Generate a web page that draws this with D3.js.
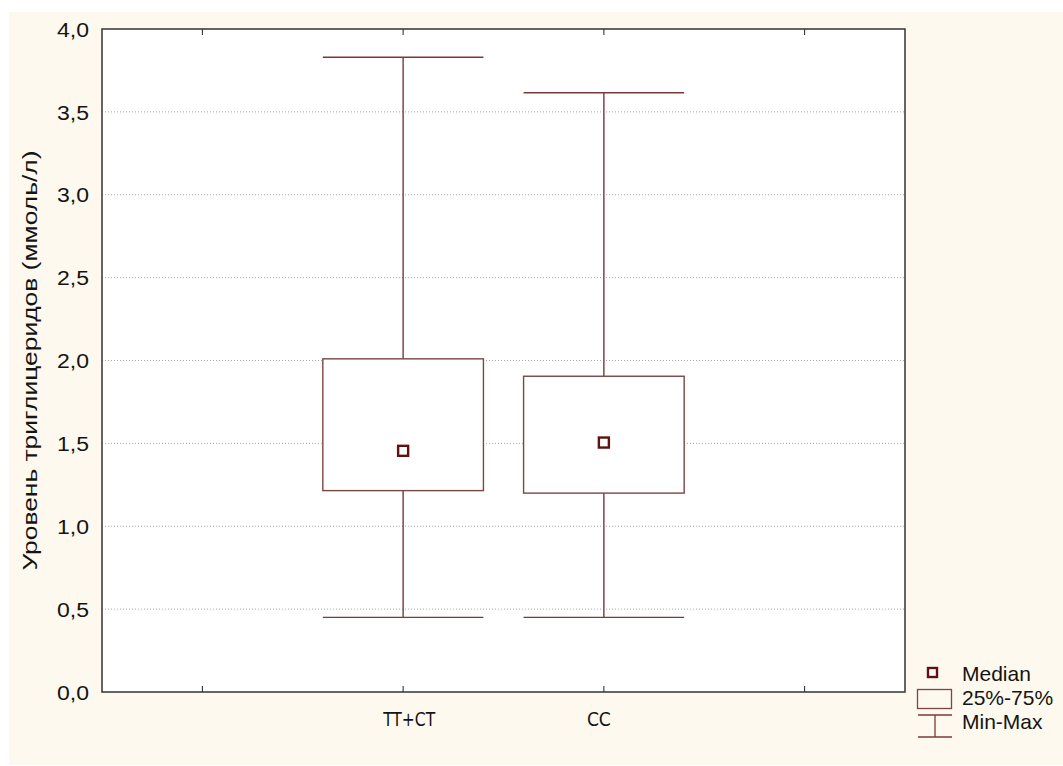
<!DOCTYPE html>
<html>
<head>
<meta charset="utf-8">
<script src="https://cdn.jsdelivr.net/npm/d3@7"></script>
<style>
  html, body { margin: 0; padding: 0; background: #ffffff; }
  svg { display: block; }
</style>
</head>
<body>
<script>
// ---- data ----
const xTickLabels = ["", "TT+CT", "CC", ""];
const groups = ["TT+CT", "CC"];
const groupSlot = [1, 2];
const minVals = [0.45, 0.45];
const q1Vals = [1.215, 1.20];
const medianVals = [1.455, 1.505];
const q3Vals = [2.01, 1.905];
const maxVals = [3.83, 3.615];
const yTickValues = [0, 0.5, 1, 1.5, 2, 2.5, 3, 3.5, 4];
const yTitle = "Уровень триглицеридов (ммоль/л)";
const legendLabels = ["Median", "25%-75%", "Min-Max"];

const W = 1063, H = 766;
const plot = { left: 102, right: 905, top: 29, bottom: 692 };
const boxColor = "#7a4646";
const whiskerColor = "#7a3838";
const medianColor = "#5e1212";
const textColor = "#141414";

const svg = d3.select("body").append("svg").attr("width", W).attr("height", H);

// backgrounds
svg.append("rect").attr("x", 0).attr("y", 0).attr("width", W).attr("height", H).attr("fill", "#ffffff");
svg.append("rect").attr("x", 9).attr("y", 12).attr("width", W - 9).attr("height", 753).attr("fill", "#fdf9ef");
svg.append("rect").attr("x", plot.left).attr("y", plot.top)
  .attr("width", plot.right - plot.left).attr("height", plot.bottom - plot.top).attr("fill", "#ffffff");

const x = d3.scaleBand().domain(d3.range(xTickLabels.length))
  .range([plot.left, plot.right]).paddingInner(0).paddingOuter(0);
const y = d3.scaleLinear().domain([0, 4]).range([plot.bottom, plot.top]);
const fmt = v => d3.format(".1f")(v).replace(".", ",");

// gridlines
svg.append("g").selectAll("line").data(yTickValues.filter(v => v > 0 && v < 4)).join("line")
  .attr("x1", plot.left).attr("x2", plot.right)
  .attr("y1", d => y(d)).attr("y2", d => y(d))
  .attr("stroke", "#a8a8a8").attr("stroke-width", 1).attr("stroke-dasharray", "1,2");

// y axis labels
const yAxis = d3.axisLeft(y).tickValues(yTickValues).tickFormat(fmt).tickSize(0).tickPadding(13);
const yg = svg.append("g").attr("transform", `translate(${plot.left},0)`).call(yAxis);
yg.select(".domain").remove();
yg.selectAll("text").attr("font-family", "Liberation Sans, Arial, sans-serif")
  .attr("font-size", 20).attr("fill", textColor).attr("dy", "0.36em")
  .attr("textLength", 32).attr("lengthAdjust", "spacingAndGlyphs");

// x axis (bottom) with inward ticks
const xAxis = d3.axisBottom(x).tickFormat(i => xTickLabels[i]).tickSize(-6).tickPadding(20);
const xg = svg.append("g").attr("transform", `translate(0,${plot.bottom})`).call(xAxis);
xg.select(".domain").remove();
xg.selectAll("line").attr("stroke", "#222").attr("stroke-width", 1);
xg.selectAll("text").attr("font-family", "Liberation Sans Narrow, DejaVu Sans Condensed, sans-serif")
  .attr("font-size", 20).attr("fill", textColor)
  .attr("dx", (d) => d === 1 ? 6 : (d === 2 ? -5 : 0))
  .each(function (d) {
    const w = { 1: 52, 2: 24 }[d];
    if (w) d3.select(this).attr("textLength", w).attr("lengthAdjust", "spacingAndGlyphs");
  });

// top inward ticks
const xTop = d3.axisTop(x).tickFormat("").tickSize(-6);
const xt = svg.append("g").attr("transform", `translate(0,${plot.top})`).call(xTop);
xt.select(".domain").remove();
xt.selectAll("line").attr("stroke", "#222");

// boxes
const bw = x.bandwidth() * 0.8;
const gBox = svg.append("g");
groups.forEach((g, i) => {
  const cx = x(groupSlot[i]) + x.bandwidth() / 2;
  gBox.append("line").attr("x1", cx).attr("x2", cx).attr("y1", y(maxVals[i])).attr("y2", y(minVals[i]))
    .attr("stroke", whiskerColor).attr("stroke-width", 1.4);
  [maxVals[i], minVals[i]].forEach(v => {
    gBox.append("line").attr("x1", cx - bw / 2).attr("x2", cx + bw / 2).attr("y1", y(v)).attr("y2", y(v))
      .attr("stroke", whiskerColor).attr("stroke-width", 1.4);
  });
  gBox.append("rect").attr("x", cx - bw / 2).attr("y", y(q3Vals[i]))
    .attr("width", bw).attr("height", y(q1Vals[i]) - y(q3Vals[i]))
    .attr("fill", "#ffffff").attr("stroke", boxColor).attr("stroke-width", 1.4);
  gBox.append("rect").attr("x", cx - 5).attr("y", y(medianVals[i]) - 5).attr("width", 10).attr("height", 10)
    .attr("fill", "#ffffff").attr("stroke", medianColor).attr("stroke-width", 2.4);
});

// frame
svg.append("rect").attr("x", plot.left).attr("y", plot.top)
  .attr("width", plot.right - plot.left).attr("height", plot.bottom - plot.top)
  .attr("fill", "none").attr("stroke", "#333").attr("stroke-width", 1.5);

// y title
svg.append("text").attr("transform", `translate(37,${(plot.top + plot.bottom) / 2}) rotate(-90)`)
  .attr("text-anchor", "middle").attr("font-family", "Liberation Sans, Arial, sans-serif")
  .attr("font-size", 20).attr("fill", textColor)
  .attr("textLength", 420).attr("lengthAdjust", "spacingAndGlyphs")
  .text(yTitle);

// legend
const lg = svg.append("g");
lg.append("rect").attr("x", 928).attr("y", 668).attr("width", 9).attr("height", 9)
  .attr("fill", "#fff").attr("stroke", medianColor).attr("stroke-width", 2.4);
lg.append("rect").attr("x", 917.5).attr("y", 689.5).attr("width", 34).attr("height", 19)
  .attr("fill", "none").attr("stroke", boxColor).attr("stroke-width", 1.3);
lg.append("line").attr("x1", 918).attr("x2", 952).attr("y1", 715).attr("y2", 715).attr("stroke", whiskerColor).attr("stroke-width", 1.3);
lg.append("line").attr("x1", 918).attr("x2", 952).attr("y1", 737).attr("y2", 737).attr("stroke", whiskerColor).attr("stroke-width", 1.3);
lg.append("line").attr("x1", 935).attr("x2", 935).attr("y1", 715).attr("y2", 737).attr("stroke", whiskerColor).attr("stroke-width", 1.3);
const legY = [681, 705, 729];
lg.selectAll("text.leg").data(legendLabels).join("text").attr("class", "leg")
  .attr("x", 962).attr("y", (d, i) => legY[i])
  .attr("font-family", "Liberation Sans, Arial, sans-serif").attr("font-size", 21).attr("fill", textColor)
  .text(d => d);
</script>
</body>
</html>
